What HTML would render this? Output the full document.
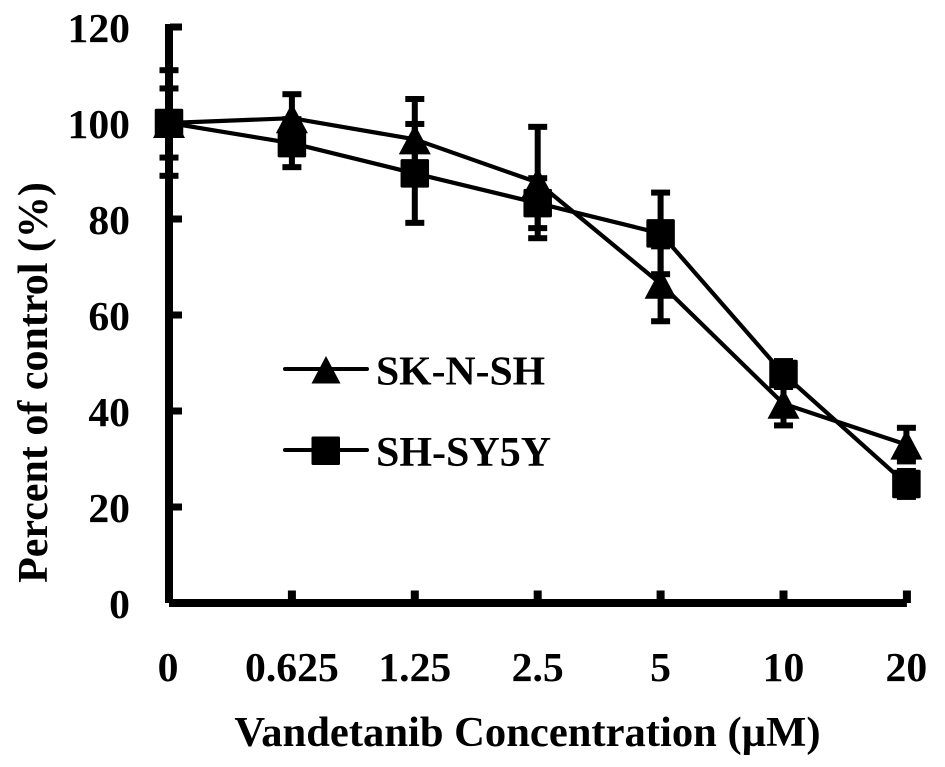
<!DOCTYPE html>
<html lang="en">
<head>
<meta charset="utf-8">
<title>Vandetanib dose response</title>
<style>
  html, body { margin: 0; padding: 0; background: #fff; }
  svg { display: block; }
  text { font-family: "Liberation Serif", serif; font-weight: bold; fill: #000; }
</style>
</head>
<body>
<svg id="chart" xmlns="http://www.w3.org/2000/svg" width="945" height="767" viewBox="0 0 945 767">
  <rect width="945" height="767" fill="#fff"/>
  <g id="axes"></g>
  <g id="series"></g>
  <text x="527.5" y="746" font-size="42.6" text-anchor="middle">Vandetanib Concentration (µM)</text>
  <text transform="translate(47,382.5) rotate(-90)" font-size="42" text-anchor="middle">Percent of control (%)</text>
  <g>
    <g>
      <line x1="285" y1="369" x2="367" y2="369" stroke="#000" stroke-width="4" stroke-linecap="round"/>
      <polygon points="326,356 340.5,383.5 311.5,383.5" fill="#000"/>
      <text x="376" y="384.5" font-size="41.7">SK-N-SH</text>
    </g>
    <g>
      <line x1="285" y1="450" x2="367" y2="450" stroke="#000" stroke-width="4" stroke-linecap="round"/>
      <rect x="311.5" y="436.5" width="28.5" height="28.5" rx="1.5" fill="#000"/>
      <text x="376" y="466" font-size="42">SH-SY5Y</text>
    </g>
  </g>
</svg>
<script>
const categories = ["0", "0.625", "1.25", "2.5", "5", "10", "20"];
const yTickValues = [0, 20, 40, 60, 80, 100, 120];
const skValues = [100, 101, 96.6, 87.6, 66.5, 41.5, 33];
const skErrors = [11, 5, 8.4, 11.6, 7.8, 4.5, 3.5];
const syValues = [100, 95.8, 89.5, 83.3, 77, 47.7, 24.8];
const syErrors = [7.2, 5, 10.3, 5.2, 8.5, 2.7, 2.7];

const xScale = function (i) { return 169 + i * 122.9; };
const yScale = function (v) { return 603 - v * 4.8; };
const NS = "http://www.w3.org/2000/svg";

function make(parent, tag, attrs) {
  const el = document.createElementNS(NS, tag);
  for (const k in attrs) el.setAttribute(k, attrs[k]);
  parent.appendChild(el);
  return el;
}

const axes = document.getElementById("axes");
const series = document.getElementById("series");

const yLine = make(axes, "rect", { x: 165, y: yScale(120) - 3, width: 8, height: yScale(0) - yScale(120) + 3 });



const xLine = make(axes, "rect", { x: 169, y: 599, width: xScale(6) - 169 + 0.5, height: 8 });



yTickValues.forEach(function (v) {
  if (v > 0) {
    const t = make(axes, "rect", { x: 170, y: yScale(v) - 3.5, width: 12, height: 7 });
    
    
  }
  const l = make(axes, "text", { x: 130, y: yScale(v) + 15, "font-size": 41.7, "text-anchor": "end" });
  l.textContent = String(v);
  
  
});

categories.forEach(function (c, i) {
  if (i > 0) {
    const t = make(axes, "rect", { x: xScale(i) - 4 + (i === 6 ? 0.5 : 0), y: 590.5, width: 8, height: 12.5 });
    
    
  }
  const l = make(axes, "text", { x: xScale(i) - (i === 0 ? 1 : 0), y: 681, "font-size": 41.7, "text-anchor": "middle" });
  l.textContent = c;
  
  
});

function drawErrors(values, errors, name) {
  values.forEach(function (v, i) {
    const x = xScale(i);
    const top = yScale(v + errors[i]);
    const bottom = yScale(v - errors[i]);
    const stem = make(series, "rect", { x: x - 3, y: top, width: 6, height: bottom - top });
    
    
    [top, bottom].forEach(function (y) {
      const cap = make(series, "rect", { x: x - 9.5, y: y - 3, width: 19, height: 6 });
      
      
    });
  });
}

function drawLine(values, name) {
  const pts = values.map(function (v, i) { return xScale(i) + "," + yScale(v); }).join(" ");
  const line = make(series, "polyline", { points: pts, fill: "none", stroke: "#000", "stroke-width": 4.2, "stroke-linejoin": "round" });
  
  
}

drawErrors(skValues, skErrors, "sk-n-sh");
drawErrors(syValues, syErrors, "sh-sy5y");
drawLine(skValues, "sk-n-sh");
drawLine(syValues, "sh-sy5y");

skValues.forEach(function (v, i) {
  const x = xScale(i), y = yScale(v);
  const pts = x + "," + (y - 15) + " " + (x + 16) + "," + (y + 15) + " " + (x - 16) + "," + (y + 15);
  const m = make(series, "polygon", { points: pts });
  
  
});

syValues.forEach(function (v, i) {
  const x = xScale(i), y = yScale(v);
  const m = make(series, "rect", { x: x - 14.25, y: y - 14.25, width: 28.5, height: 28.5, rx: 1.5 });
  
  
});
</script>
</body>
</html>
